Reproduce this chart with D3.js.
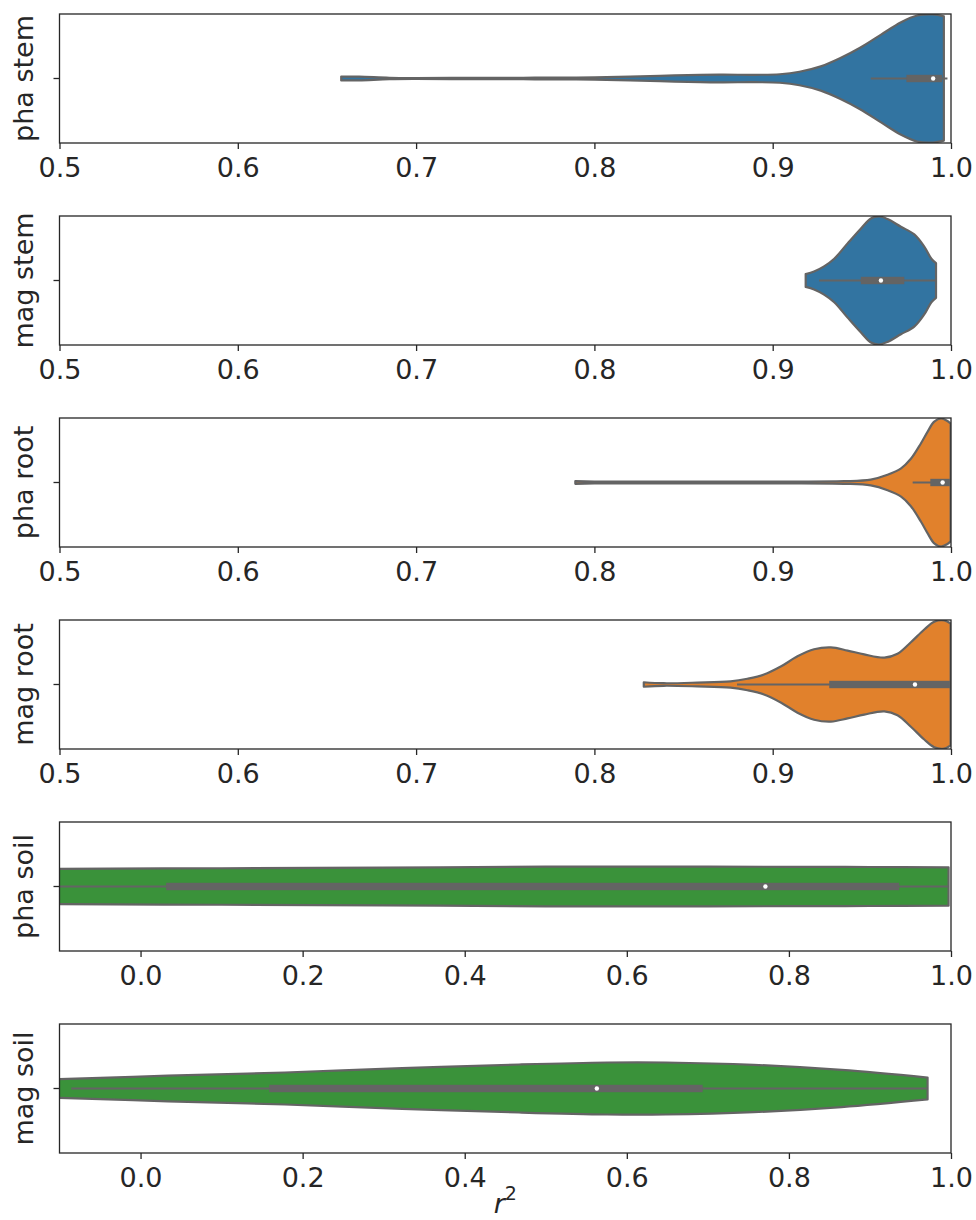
<!DOCTYPE html>
<html>
<head>
<meta charset="utf-8">
<script src="https://cdn.jsdelivr.net/npm/d3@7"></script>
<style>
  html, body { margin: 0; padding: 0; background: #ffffff; }
  svg { display: block; font-family: "DejaVu Sans", sans-serif; }
</style>
</head>
<body>
<svg id="chart" width="976" height="1220"></svg>
<script>
// Panel names, in drawing order (top to bottom)
const panelNames = ["pha stem", "mag stem", "pha root", "mag root", "pha soil", "mag soil"];
const panelColors = ["#3274a1", "#3274a1", "#e1812c", "#e1812c", "#3a923a", "#3a923a"];

// x domains and tick labels
const narrowDomain = [0.5, 1.0];
const narrowTicks = [0.5, 0.6, 0.7, 0.8, 0.9, 1.0];
const wideDomain = [-0.1, 1.0];
const wideTicks = [0.0, 0.2, 0.4, 0.6, 0.8, 1.0];

// Kernel density profiles: [r², density] (density 1 = full violin half-width)
const phaStemKde = [[0.658, 0.03], [0.668, 0.028], [0.685, 0.012], [0.70, 0.008], [0.73, 0.009],
  [0.76, 0.012], [0.79, 0.016], [0.82, 0.028], [0.845, 0.048], [0.87, 0.06], [0.89, 0.058],
  [0.904, 0.066], [0.915, 0.105], [0.927, 0.19], [0.938, 0.32], [0.949, 0.48], [0.961, 0.69],
  [0.972, 0.88], [0.981, 0.985], [0.990, 1.0], [0.996, 0.97]];
const magStemKde = [[0.9185, 0.10], [0.9232, 0.14], [0.9288, 0.22], [0.9345, 0.34], [0.942, 0.58],
  [0.9494, 0.81], [0.9551, 0.97], [0.9597, 1.0], [0.9644, 0.96], [0.9719, 0.84], [0.9794, 0.72],
  [0.985, 0.53], [0.989, 0.34], [0.9916, 0.27]];
const phaRootKde = [[0.7893, 0.02], [0.80, 0.015], [0.85, 0.013], [0.90, 0.014], [0.94, 0.02],
  [0.955, 0.045], [0.9644, 0.12], [0.972, 0.22], [0.9775, 0.37], [0.9831, 0.61], [0.987, 0.80],
  [0.9906, 0.95], [0.9944, 1.0], [0.998, 0.96], [0.9998, 0.92]];
const magRootKde = [[0.8277, 0.035], [0.8389, 0.02], [0.8577, 0.03], [0.8764, 0.05], [0.8858, 0.09],
  [0.8951, 0.155], [0.9045, 0.28], [0.9139, 0.44], [0.9232, 0.55], [0.9326, 0.58], [0.942, 0.53],
  [0.9513, 0.47], [0.9626, 0.42], [0.970, 0.48], [0.9775, 0.66], [0.985, 0.86], [0.9906, 0.98],
  [0.9962, 1.0], [0.9998, 0.95]];
const phaSoilKde = [[-0.15, 0.27], [-0.1, 0.275], [0.1, 0.285], [0.3, 0.295], [0.5, 0.31],
  [0.6, 0.312], [0.8, 0.308], [0.9, 0.305], [0.997, 0.30]];
const magSoilKde = [[-0.15, 0.135], [-0.1, 0.145], [0.0337, 0.20], [0.178, 0.25], [0.3228, 0.317],
  [0.467, 0.375], [0.5757, 0.406], [0.648, 0.406], [0.7565, 0.37], [0.865, 0.29], [0.9711, 0.17]];

// Box statistics: [lower whisker, Q1, median, Q3, upper whisker]
const phaStemBox = [0.955, 0.975, 0.990, 0.995, 0.998];
const magStemBox = [0.926, 0.9494, 0.9607, 0.9738, 0.9916];
const phaRootBox = [0.9785, 0.9884, 0.9953, 0.9998, 0.9998];
const magRootBox = [0.880, 0.9317, 0.9798, 0.9998, 0.9998];
const phaSoilBox = [-0.2, 0.0316, 0.771, 0.936, 0.997];
const magSoilBox = [-0.0855, 0.1588, 0.563, 0.6936, 0.9711];

const panels = [
  { kde: phaStemKde, box: phaStemBox, domain: narrowDomain, ticks: narrowTicks },
  { kde: magStemKde, box: magStemBox, domain: narrowDomain, ticks: narrowTicks },
  { kde: phaRootKde, box: phaRootBox, domain: narrowDomain, ticks: narrowTicks },
  { kde: magRootKde, box: magRootBox, domain: narrowDomain, ticks: narrowTicks },
  { kde: phaSoilKde, box: phaSoilBox, domain: wideDomain, ticks: wideTicks },
  { kde: magSoilKde, box: magSoilBox, domain: wideDomain, ticks: wideTicks }
];

const svg = d3.select("#chart");
const left = 59.5, right = 951;
const panelTop = 14, panelStep = 202, panelH = 129;
const textColor = "#262626";
const violinEdge = "#646464";
const fontSize = 27;

const halfWidth = d3.scaleLinear().domain([0, 1]).range([0, 64]);

panels.forEach((p, i) => {
  const top = panelTop + i * panelStep;
  const g = svg.append("g").attr("transform", `translate(0,${top})`);
  const x = d3.scaleLinear().domain(p.domain).range([left, right]);
  const cy = panelH / 2;

  const clipId = "clip" + i;
  g.append("clipPath").attr("id", clipId)
    .append("rect").attr("x", left).attr("y", 0).attr("width", right - left).attr("height", panelH);

  const body = g.append("g").attr("clip-path", `url(#${clipId})`);

  // violin body
  const area = d3.area()
    .x(d => x(d[0]))
    .y0(d => cy + halfWidth(d[1]))
    .y1(d => cy - halfWidth(d[1]))
    .curve(d3.curveCatmullRom.alpha(0.5));
  body.append("path")
    .datum(p.kde)
    .attr("d", area)
    .attr("fill", panelColors[i])
    .attr("stroke", violinEdge)
    .attr("stroke-width", 2.2)
    .attr("stroke-linejoin", "round");

  // inner box: whiskers, interquartile bar, median dot
  const [wLo, q1, med, q3, wHi] = p.box;
  body.append("line")
    .attr("x1", x(wLo)).attr("x2", x(wHi))
    .attr("y1", cy).attr("y2", cy)
    .attr("stroke", violinEdge).attr("stroke-width", 2.2);
  body.append("rect")
    .attr("x", x(q1)).attr("y", cy - 3.7)
    .attr("width", x(q3) - x(q1)).attr("height", 7.4)
    .attr("fill", violinEdge);
  body.append("circle")
    .attr("cx", x(med)).attr("cy", cy).attr("r", 2.2)
    .attr("fill", "#ffffff");

  // frame
  g.append("rect")
    .attr("x", left).attr("y", 0)
    .attr("width", right - left).attr("height", panelH)
    .attr("fill", "none").attr("stroke", textColor).attr("stroke-width", 1.3);

  // x axis
  const axis = g.append("g")
    .attr("transform", `translate(0,${panelH})`)
    .call(d3.axisBottom(x).tickValues(p.ticks).tickSize(6).tickFormat(d3.format(".1f")));
  axis.select(".domain").remove();
  axis.selectAll(".tick line").attr("stroke", textColor).attr("stroke-width", 1.3);
  axis.selectAll(".tick text")
    .attr("y", 34).attr("dy", null)
    .attr("fill", textColor)
    .style("font-size", fontSize + "px")
    .style("font-family", "DejaVu Sans, sans-serif");

  // y tick at category centre
  g.append("line")
    .attr("x1", left - 6).attr("x2", left)
    .attr("y1", cy).attr("y2", cy)
    .attr("stroke", textColor).attr("stroke-width", 1.3);

  // y label
  g.append("text")
    .attr("transform", `translate(33,${cy}) rotate(-90)`)
    .attr("text-anchor", "middle")
    .attr("fill", textColor)
    .style("font-size", fontSize + "px")
    .text(panelNames[i]);
});

// shared x label
const xl = svg.append("text")
  .attr("x", (left + right) / 2)
  .attr("y", 1213)
  .attr("text-anchor", "middle")
  .attr("fill", textColor)
  .style("font-size", fontSize + "px");
xl.append("tspan").style("font-style", "italic").text("r");
xl.append("tspan").attr("dy", -13).style("font-size", "19px").text("2");
</script>
</body>
</html>
